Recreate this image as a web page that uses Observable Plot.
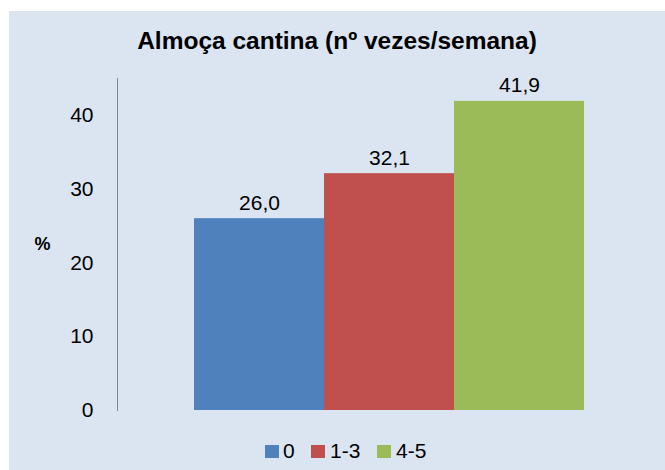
<!DOCTYPE html>
<html>
<head>
<meta charset="utf-8">
<script src="https://cdn.jsdelivr.net/npm/d3@7"></script>
<script src="https://cdn.jsdelivr.net/npm/@observablehq/plot@0.6"></script>
<style>
  html, body { margin: 0; padding: 0; background: #ffffff; }
  #wrap { position: relative; width: 665px; height: 470px; overflow: hidden; font-family: "Liberation Sans", Arial, sans-serif; }
  #bg { position: absolute; left: 9px; top: 11px; right: 0; bottom: 0; background: #dbe5f1; }
  #title { position: absolute; left: 9px; right: 0; top: 27px; text-align: center; font-weight: bold; font-size: 24.5px; color: #000; }
  #chart { position: absolute; left: 0; top: 0; }
  #legend { position: absolute; top: 440px; left: 0; width: 665px; height: 22px; }
  .sw { position: absolute; top: 5px; width: 14px; height: 13px; }
  .lt { position: absolute; top: 0; font-size: 21px; line-height: 22px; color: #000; }
</style>
</head>
<body>
<div id="wrap">
  <div id="bg"></div>
  <div id="title"></div>
  <div id="chart"></div>
  <div id="legend"></div>
</div>
<script>
const title = "Almoça cantina (nº vezes/semana)";
const yLabel = "%";
const categories = ["0", "1-3", "4-5"];
const values = [26.0, 32.1, 41.9];
const colors = ["#4f81bd", "#c0504d", "#9bbb59"];
const yTicks = [0, 10, 20, 30, 40];

const data = categories.map((c, i) => ({cat: c, value: values[i]}));
const fmt = v => v.toFixed(1).replace(".", ",");

document.getElementById("title").textContent = title;

const plot = Plot.plot({
  width: 665,
  height: 470,
  marginLeft: 117,
  marginRight: 4,
  marginTop: 78,
  marginBottom: 60,
  style: {background: "transparent", fontFamily: "Liberation Sans, Arial, sans-serif", color: "#000"},
  x: {domain: categories, range: [194, 584], padding: 0, axis: null},
  y: {domain: [0, 45], axis: null},
  color: {domain: categories, range: colors},
  marks: [
    Plot.barY(data, {x: "cat", y: "value", fill: "cat"}),
    Plot.frame({anchor: "left", stroke: "#868686", strokeWidth: 1}),
    Plot.axisY({ticks: yTicks, tickSize: 0, tickPadding: 24, fontSize: 21, label: null, tickFormat: d => String(d), fill: "#000"}),
    Plot.text(data, {x: "cat", y: "value", text: d => fmt(d.value), lineAnchor: "bottom", dy: -9, fontSize: 21, fill: "#000"}),
    Plot.text([yLabel], {frameAnchor: "left", dx: -75, dy: 0, text: d => d, fontSize: 18, fontWeight: "bold", fill: "#000", textAnchor: "middle"})
  ]
});
document.getElementById("chart").appendChild(plot);

// legend
const legend = document.getElementById("legend");
const legendPos = [
  {sw: 265, tx: 283},
  {sw: 311, tx: 330},
  {sw: 377, tx: 396}
];
categories.forEach((c, i) => {
  const s = document.createElement("div");
  s.className = "sw";
  s.style.left = legendPos[i].sw + "px";
  s.style.background = colors[i];
  legend.appendChild(s);
  const t = document.createElement("div");
  t.className = "lt";
  t.style.left = legendPos[i].tx + "px";
  t.textContent = c;
  legend.appendChild(t);
});
</script>
</body>
</html>
